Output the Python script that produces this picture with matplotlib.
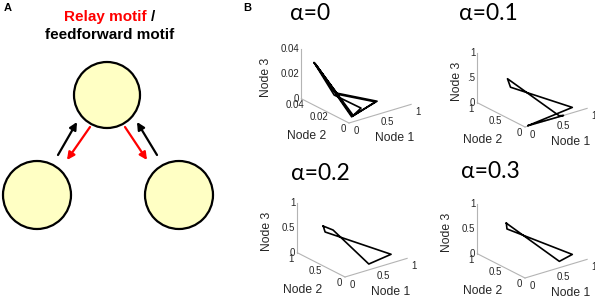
import numpy as np
import matplotlib
matplotlib.use('Agg')
import matplotlib.pyplot as plt
from matplotlib.patches import Circle
from mpl_toolkits.mplot3d import proj3d

W, H = 595, 302

# ---- data: limit cycles of the three nodes for each alpha ----
alphas = ['α=0', 'α=0.1', 'α=0.2', 'α=0.3']

node1_a0 = [0.02, 0.06, 0.49, 0.13, 0.03, 0.07, 0.47, 0.14, 0.02, 0.03, 0.27, 0.12, 0.02]
node2_a0 = [0.030, 0.014, 0.002, 0.004, 0.0296, 0.0132, 0.0024, 0.0036, 0.0304, 0.014, 0.004, 0.004, 0.030]
node3_a0 = [0.0332, 0.0164, 0.0092, 0.0016, 0.0324, 0.0156, 0.0088, 0.002, 0.0336, 0.0152, 0.006, 0.0012, 0.0332]

node1_a1 = [0.05, 0.80, 0.15, 0.14, 0.55, 0.62, 0.05]
node2_a1 = [0.00, 0.05, 0.50, 0.55, 0.00, 0.00, 0.00]
node3_a1 = [0.01, 0.07, 0.50, 0.65, 0.02, 0.00, 0.01]

node1_a2 = [0.11, 0.23, 0.46, 0.78, 0.14, 0.11]
node2_a2 = [0.60, 0.55, 0.10, 0.05, 0.60, 0.60]
node3_a2 = [0.69, 0.59, 0.04, 0.14, 0.56, 0.69]

node1_a3 = [0.16, 0.23, 0.63, 0.80, 0.17, 0.16]
node2_a3 = [0.60, 0.55, 0.10, 0.05, 0.60, 0.60]
node3_a3 = [0.75, 0.65, 0.05, 0.15, 0.63, 0.75]

# axis limits and tick labels
lims = [(1, 0.04, 0.04), (1, 1, 1), (1, 1, 1), (1, 1, 1)]
xticks = [0, 0.5, 1]
xticklabels = ['0', '0.5', '1']
yticks_small = [0, 0.02, 0.04]
yticklabels_small = ['0', '0.02', '0.04']
zticklabels_a1 = ['0', '.5', '1']

plt.rcParams['font.family'] = ['Liberation Sans', 'DejaVu Sans']
fig = plt.figure(figsize=(W / 100, H / 100), dpi=100)

# ---------------- panel A: motif diagram ----------------
axA = fig.add_axes([0, 0, 220 / W, 1])
axA.set_xlim(0, 220)
axA.set_ylim(H, 0)
axA.axis('off')

for (cx, cy, r) in [(107, 95, 33), (37, 195, 34), (179, 195, 34)]:
    axA.add_patch(Circle((cx, cy), r, facecolor='#ffffc4', edgecolor='black', lw=1.6))

arrows = [((58, 155), (77, 122), 'black'), ((90, 127), (67, 160), 'red'),
          ((125, 127), (147, 160), 'red'), ((157, 155), (137, 122), 'black')]
for tail, tip, col in arrows:
    axA.annotate('', xy=tip, xytext=tail,
                 arrowprops=dict(arrowstyle='-|>', color=col, lw=1.6,
                                 mutation_scale=11, shrinkA=0, shrinkB=0))

axA.text(147, 17, 'Relay motif', color='red', fontsize=11, fontweight='bold',
         ha='right', va='center')
axA.text(151, 17, '/', color='black', fontsize=11, fontweight='bold',
         ha='left', va='center')
axA.text(110, 35, 'feedforward motif', color='black', fontsize=11,
         fontweight='bold', ha='center', va='center')
axA.text(8, 8, 'A', fontsize=8, fontweight='bold', ha='center', va='center')
axA.text(247, 8, 'B', fontsize=8, fontweight='bold', ha='center', va='center')

# ---------------- panel B: 3D trajectories ----------------
XV = np.array([62.0, -19.0])   # screen vector of the full Node 1 axis
ZV = 50.0                      # screen length of the Node 3 axis


def off(dx, dy):
    # pixel offset -> (node1, node3) fraction offsets
    a = dx / XV[0]
    c = -(dy - XV[1] * a) / ZV
    return a, c


def place(ax, origin):
    for _ in range(3):
        fig.canvas.draw()
        xs, ys, _ = proj3d.proj_transform(np.array([0.0, ax.get_xlim()[1]]),
                                          np.array([0.0, 0.0]),
                                          np.array([0.0, 0.0]), ax.M)
        d = ax.transData.transform(np.column_stack([xs, ys]))
        f = np.hypot(*XV) / np.hypot(*(d[1] - d[0]))
        bb = ax.get_position()
        s = bb.width * W * f
        cx = (bb.x0 + bb.width / 2) * W
        cy = (bb.y0 + bb.height / 2) * H
        ncx = origin[0] - (d[0][0] - cx) * f
        ncy = (H - origin[1]) - (d[0][1] - cy) * f
        ax.set_position([(ncx - s / 2) / W, (ncy - s / 2) / H, s / W, s / H])


panels = [
    (node1_a0, node2_a0, node3_a0, (349, 123), (310, 14), -35),
    (node1_a1, node2_a1, node3_a1, (525, 127), (488, 13), -20),
    (node1_a2, node2_a2, node3_a2, (345, 277), (320, 173), -30),
    (node1_a3, node2_a3, node3_a3, (525, 278), (490, 172), -30),
]

grey = '#b4b4b4'
txt = '#262626'
for i, (n1, n2, n3, origin, tpos, n3off) in enumerate(panels):
    xm, ym, zm = lims[i]
    ax = fig.add_axes([0.5, 0.5, 0.3, 0.3], projection='3d')
    ax.set_proj_type('ortho')
    ax.view_init(elev=23, azim=-127.5)
    ax.set_box_aspect((1, 1, 0.69))
    ax.set_xlim(0, xm)
    ax.set_ylim(0, ym)
    ax.set_zlim(0, zm)
    ax.set_axis_off()
    ax.patch.set_alpha(0)

    # MATLAB style axis lines
    ax.plot([0, xm], [0, 0], [0, 0], color=grey, lw=0.8, clip_on=False)
    ax.plot([0, 0], [0, ym], [0, 0], color=grey, lw=0.8, clip_on=False)
    ax.plot([0, 0], [ym, ym], [0, zm], color=grey, lw=0.8, clip_on=False)

    ax.plot(n1, n2, n3, color='black', lw=1.2, clip_on=False)

    if i == 0:
        yt, ytl = yticks_small, yticklabels_small
        zt, ztl = yticks_small, yticklabels_small
    else:
        yt, ytl = xticks, xticklabels
        zt = xticks
        ztl = zticklabels_a1 if i == 1 else xticklabels

    a, c = off(7, 8)
    for t, lab in zip(xticks, xticklabels):
        ax.text(t + a * xm, 0, c * zm, lab, fontsize=7, color=txt,
                ha='center', va='center', clip_on=False)
    a, c = off(-6, 6)
    for t, lab in zip(yt, ytl):
        ax.text(a * xm, t, c * zm, lab, fontsize=7, color=txt,
                ha='center', va='center', clip_on=False)
    a, c = off(-2, 0)
    for t, lab in zip(zt, ztl):
        ax.text(a * xm, ym, t + c * zm, lab, fontsize=7, color=txt,
                ha='right', va='center', clip_on=False)

    a, c = off(15, 24.5)
    ax.text(0.5 * xm + a * xm, 0, c * zm, 'Node 1', fontsize=8.7, color=txt,
            ha='center', va='center', clip_on=False)
    a, c = off(-19, 25)
    ax.text(a * xm, 0.5 * ym, c * zm, 'Node 2', fontsize=8.7, color=txt,
            ha='center', va='center', clip_on=False)
    a, c = off(n3off, 4)
    ax.text(a * xm, ym, 0.5 * zm + c * zm, 'Node 3', 'z', fontsize=8.7,
            color=txt, ha='center', va='center', clip_on=False)

    place(ax, origin)

    fig.text(tpos[0] / W, 1 - tpos[1] / H, alphas[i], fontsize=16.5,
             family=['Lato', 'DejaVu Sans'], ha='center', va='center')

fig.savefig('out.png', dpi=100)
